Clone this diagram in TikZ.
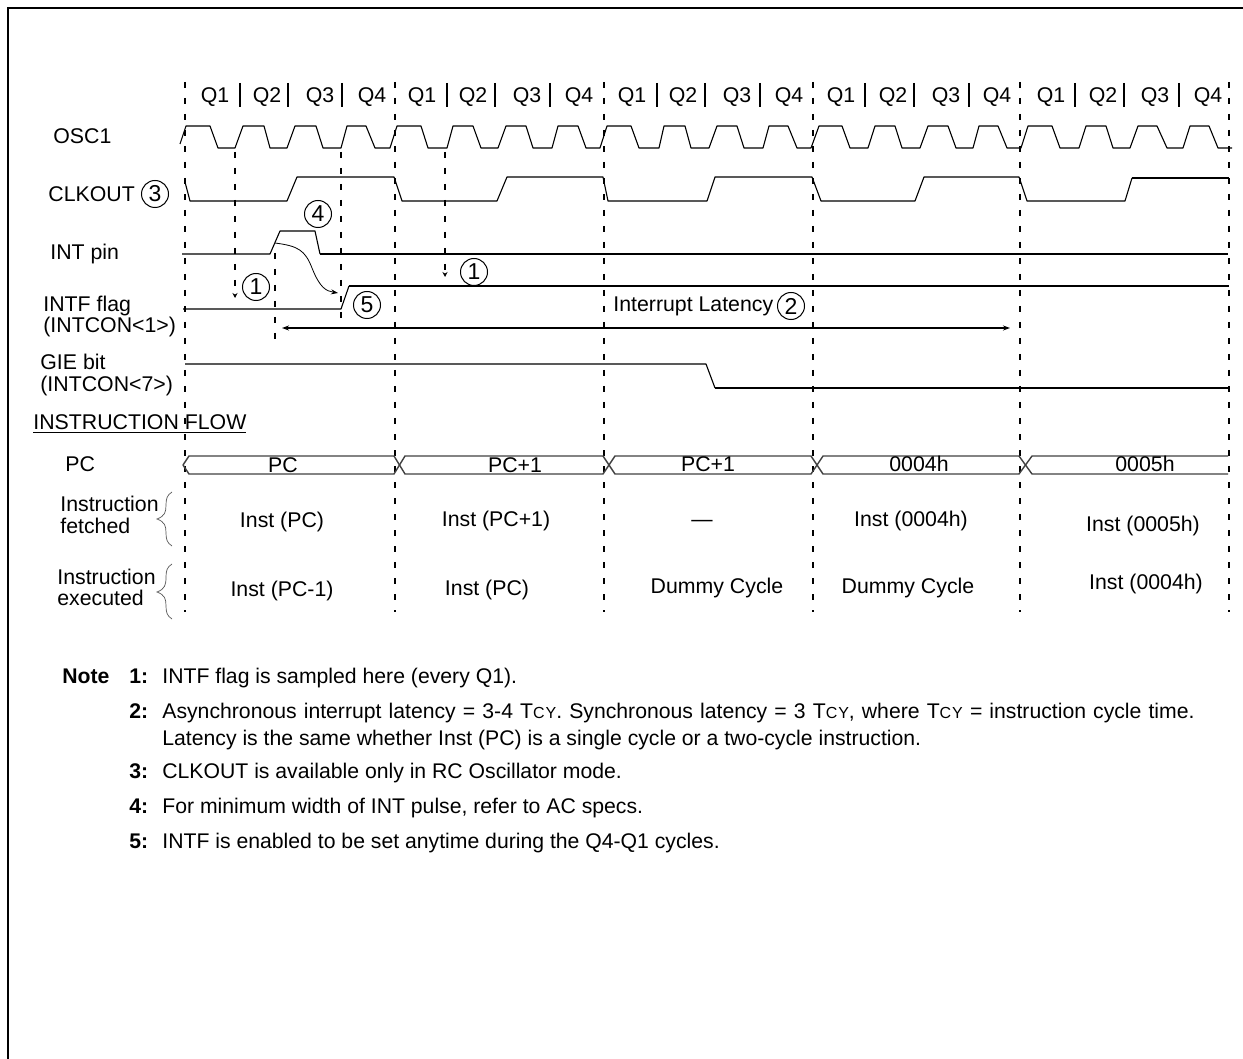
\documentclass[tikz,border=0pt]{standalone}
\usepackage{fontspec}
\setmainfont{Liberation Sans}
\usetikzlibrary{arrows.meta}
\definecolor{inkblack}{HTML}{000000}
\definecolor{busgray}{HTML}{404040}
\definecolor{bracegray}{HTML}{555555}
\newcommand{\tcy}{T{\fontsize{8}{9}\selectfont\addfontfeature{LetterSpace=6}CY}}

\begin{document}
\begin{tikzpicture}[
    x=0.5pt, y=-0.5pt,
    % ── Text styles ──────────────────────────────────────────────────────
    base/.style={
        inner sep=0pt, text=inkblack,
        font=\fontsize{10.65}{12}\selectfont
    },
    siglabel/.style={base, anchor=base west},
    textlabel/.style={base, anchor=base},
    circlemark/.style={
        base, draw=inkblack, circle, minimum size=13.5pt,
        line width=0.5pt, font=\fontsize{11.5}{12}\selectfont
    },
    notetext/.style={
        siglabel, font=\fontsize{10.6}{12}\selectfont
    },
    notenum/.style={
        siglabel, font=\fontsize{10.6}{12}\selectfont\bfseries
    },
    % ── Line styles ──────────────────────────────────────────────────────
    frameline/.style={line width=1pt, color=inkblack},
    cycleline/.style={
        line width=1pt, color=inkblack,
        dash pattern=on 3pt off 5pt
    },
    sampleline/.style={
        cycleline, -{Stealth[length=2.5pt, width=2.5pt]}
    },
    qtick/.style={line width=0.8pt, color=inkblack},
    wave/.style={line width=0.55pt, color=inkblack, line join=round},
    heavywave/.style={line width=0.85pt, color=inkblack},
    busline/.style={line width=0.7pt, color=busgray},
    bracket/.style={line width=0.35pt, color=bracegray},
    arr/.style={
        -{Stealth[length=3.5pt, width=2.5pt]},
        line width=0.4pt, color=inkblack
    },
    latency/.style={
        {Stealth[length=3.5pt, width=2.5pt]}-{Stealth[length=3.5pt, width=2.5pt]},
        line width=0.7pt, color=inkblack
    }
]
\useasboundingbox (0,0) rectangle (1243,1059);

% ═══════════════════════════════════════════════════════════════════════════
% Frame
% ═══════════════════════════════════════════════════════════════════════════
\draw[frameline] (8,1059) -- (8,8) -- (1243,8);

% ═══════════════════════════════════════════════════════════════════════════
% Cycle boundaries
% ═══════════════════════════════════════════════════════════════════════════
\draw[cycleline] (185,82) -- (185,612);
\draw[cycleline] (395,82) -- (395,612);
\draw[cycleline] (604,82) -- (604,612);
\draw[cycleline] (813,82) -- (813,612);
\draw[cycleline] (1020,82) -- (1020,612);
\draw[cycleline] (1229,82) -- (1229,612);

% Sampling and event markers
\draw[sampleline] (235,152) -- (235,298);
\draw[sampleline] (445,152) -- (445,277);
\draw[cycleline] (341,152) -- (341,322);
\draw[cycleline, line width=0.8pt] (275,253) -- (275,348);

% ═══════════════════════════════════════════════════════════════════════════
% Q phases
% ═══════════════════════════════════════════════════════════════════════════
\node[textlabel] (qa1) at (215,103) {Q1};
\node[textlabel] (qa2) at (267,103) {Q2};
\node[textlabel] (qa3) at (320,103) {Q3};
\node[textlabel] (qa4) at (372,103) {Q4};
\node[textlabel] (qb1) at (422,103) {Q1};
\node[textlabel] (qb2) at (473,103) {Q2};
\node[textlabel] (qb3) at (527,103) {Q3};
\node[textlabel] (qb4) at (579,103) {Q4};
\node[textlabel] (qc1) at (632,103) {Q1};
\node[textlabel] (qc2) at (683,103) {Q2};
\node[textlabel] (qc3) at (737,103) {Q3};
\node[textlabel] (qc4) at (789,103) {Q4};
\node[textlabel] (qd1) at (841,103) {Q1};
\node[textlabel] (qd2) at (893,103) {Q2};
\node[textlabel] (qd3) at (946,103) {Q3};
\node[textlabel] (qd4) at (997,103) {Q4};
\node[textlabel] (qe1) at (1051,103) {Q1};
\node[textlabel] (qe2) at (1103,103) {Q2};
\node[textlabel] (qe3) at (1155,103) {Q3};
\node[textlabel] (qe4) at (1208,103) {Q4};

\draw[qtick] (240,83) -- (240,107) (288,83) -- (288,107) (342,83) -- (342,107);
\draw[qtick] (447,83) -- (447,107) (495,83) -- (495,107) (550,83) -- (550,107);
\draw[qtick] (657,83) -- (657,107) (705,83) -- (705,107) (760,83) -- (760,107);
\draw[qtick] (865,83) -- (865,107) (914,83) -- (914,107) (969,83) -- (969,107);
\draw[qtick] (1075,83) -- (1075,107) (1124,83) -- (1124,107) (1179,83) -- (1179,107);

% ═══════════════════════════════════════════════════════════════════════════
% Signal names
% ═══════════════════════════════════════════════════════════════════════════
\node[siglabel] (osc) at (53,144) {OSC1};
\node[siglabel] (clkout) at (48,202) {CLKOUT};
\node[circlemark] (markthree) at (155,194) {3};
\node[siglabel] (intpin) at (50,260) {INT pin};
\node[siglabel] (intf) at (43,312) {INTF flag};
\node[siglabel] (intcona) at (43,333) {(INTCON<1>)};
\node[siglabel] (gie) at (40,370) {GIE bit};
\node[siglabel] (intconb) at (40,392) {(INTCON<7>)};
\node[siglabel] (flow) at (33,429.5) {\underline{INSTRUCTION FLOW}};
\node[siglabel] (pclabel) at (65,472) {PC};
\node[siglabel] (fetcha) at (60,511) {Instruction};
\node[siglabel] (fetchb) at (60,533) {fetched};
\node[siglabel] (execa) at (57,584) {Instruction};
\node[siglabel] (execb) at (57,605) {executed};

% Braces
\draw[bracket] (172,492) .. controls (167,495) and (166,499) .. (166,505)
    .. controls (166,512) and (165,516) .. (157,519)
    .. controls (165,522) and (166,526) .. (166,533)
    .. controls (166,539) and (167,543) .. (172,546);
\draw[bracket] (172,564) .. controls (167,567) and (166,571) .. (166,577)
    .. controls (166,585) and (165,589) .. (157,592)
    .. controls (165,595) and (166,599) .. (166,606)
    .. controls (166,612) and (167,616) .. (172,619);

% ═══════════════════════════════════════════════════════════════════════════
% Waveforms
% ═══════════════════════════════════════════════════════════════════════════
% OSC1
\draw[wave] (180,144) -- (186,126) -- (210,126) -- (218,148) -- (235,148)
    -- (243,126) -- (264,126) -- (270,148) -- (287,148) -- (295,126)
    -- (316,126) -- (323,148) -- (341,148) -- (347,126) -- (366,126)
    -- (375,148) -- (390,148) -- (397,126) -- (421,126) -- (428,148)
    -- (447,148) -- (453,126) -- (473,126) -- (481,148) -- (498,148)
    -- (506,126) -- (526,126) -- (533,148) -- (552,148) -- (558,126)
    -- (578,126) -- (586,148) -- (600,148) -- (607,126) -- (631,126)
    -- (639,148) -- (659,148) -- (664,126) -- (685,126) -- (691,148)
    -- (709,148) -- (717,126) -- (737,126) -- (744,148) -- (763,148)
    -- (769,126) -- (788,126) -- (797,148) -- (811,148) -- (819,126)
    -- (842,126) -- (850,148) -- (868,148) -- (875,126) -- (895,126)
    -- (902,148) -- (920,148) -- (928,126) -- (948,126) -- (956,148)
    -- (973,148) -- (979,126) -- (998,126) -- (1007,148) -- (1021,148)
    -- (1028,126) -- (1052,126) -- (1060,148) -- (1079,148) -- (1086,126)
    -- (1106,126) -- (1113,148) -- (1130,148) -- (1138,126) -- (1157,126)
    -- (1167,148) -- (1183,148) -- (1190,126) -- (1209,126) -- (1218,148)
    -- (1232,148);

% CLKOUT
\draw[wave] (185,182) -- (190,201) -- (287,201) -- (297,177) -- (394,177)
    -- (402,201) -- (497,201) -- (507,177) -- (603,177) -- (608,201)
    -- (707,201) -- (715,177) -- (812,177) -- (821,201) -- (915,201)
    -- (924,177) -- (1019,177) -- (1027,201) -- (1125,201) -- (1132,178);
\draw[heavywave] (1132,178) -- (1229,178);

% INT pin
\draw[wave] (182,254) -- (270,254) -- (280,231) -- (315,231) -- (320,254);
\draw[heavywave] (320,254) -- (1228,254);
\draw[arr] (275,243) .. controls (298,246) and (305,250) .. (312,268)
    .. controls (320,288) and (326,291) .. (338,293);
\node[circlemark] (markfour) at (318,214) {4};

% INTF flag
\draw[wave] (183,309) -- (341,309) -- (349,286);
\draw[heavywave] (349,286) -- (1229,286);
\node[circlemark] (markonea) at (256,287) {1};
\node[circlemark] (markoneb) at (474,272) {1};
\node[circlemark] (markfive) at (367,305) {5};

% Latency span
\node[siglabel] (latencytext) at (613,312) {Interrupt Latency};
\node[circlemark] (marktwo) at (791,306) {2};
\draw[latency] (282,328) -- (1010,328);

% GIE bit
\draw[wave] (185,364) -- (706,364) -- (715,388);
\draw[heavywave] (715,388) -- (1229,388);

% ═══════════════════════════════════════════════════════════════════════════
% Instruction flow
% ═══════════════════════════════════════════════════════════════════════════
\draw[busline] (183,465) -- (189,456) -- (394,456) -- (405,474) -- (603,474)
    -- (615,456) -- (811,456) -- (823,474) -- (1019,474) -- (1032,456) -- (1228,456);
\draw[busline] (183,465) -- (189,474) -- (394,474) -- (405,456) -- (603,456)
    -- (615,474) -- (811,474) -- (823,456) -- (1019,456) -- (1032,474) -- (1228,474);

\node[textlabel] (busa) at (283,473) {PC};
\node[textlabel] (busb) at (515,473) {PC+1};
\node[textlabel] (busc) at (708,472) {PC+1};
\node[textlabel] (busd) at (919,472) {0004h};
\node[textlabel] (buse) at (1145,472) {0005h};

% Fetched
\node[textlabel] (fetcheda) at (282,527) {Inst (PC)};
\node[textlabel] (fetchedb) at (496,526) {Inst (PC+1)};
\node[textlabel] (fetchedc) at (702,526) {—};
\node[textlabel] (fetchedd) at (911,526) {Inst (0004h)};
\node[textlabel] (fetchede) at (1143,531) {Inst (0005h)};

% Executed
\node[textlabel] (executeda) at (282,596) {Inst (PC-1)};
\node[textlabel] (executedb) at (487,595) {Inst (PC)};
\node[textlabel] (executedc) at (717,593) {Dummy Cycle};
\node[textlabel] (executedd) at (908,593) {Dummy Cycle};
\node[textlabel] (executede) at (1146,589) {Inst (0004h)};

% ═══════════════════════════════════════════════════════════════════════════
% Notes
% ═══════════════════════════════════════════════════════════════════════════
\node[notenum] (notehead) at (62,683) {Note};
\node[notenum] (numone) at (129,683) {1:};
\node[notetext] (noteone) at (162,683) {INTF flag is sampled here (every Q1).};
\node[notenum] (numtwo) at (129,718) {2:};
\node[notetext] (notetwoa) at (162,718)
    {\spaceskip=3.55pt Asynchronous interrupt latency = 3-4 \tcy. Synchronous latency = 3 \tcy, where \tcy{} = instruction cycle time.};
\node[notetext] (notetwob) at (162,745)
    {Latency is the same whether Inst (PC) is a single cycle or a two-cycle instruction.};
\node[notenum] (numthree) at (129,778) {3:};
\node[notetext] (notethree) at (162,778) {CLKOUT is available only in RC Oscillator mode.};
\node[notenum] (numfour) at (129,813) {4:};
\node[notetext] (notefour) at (162,813) {For minimum width of INT pulse, refer to AC specs.};
\node[notenum] (numfive) at (129,848) {5:};
\node[notetext] (notefive) at (162,848) {INTF is enabled to be set anytime during the Q4-Q1 cycles.};

\end{tikzpicture}
\end{document}
